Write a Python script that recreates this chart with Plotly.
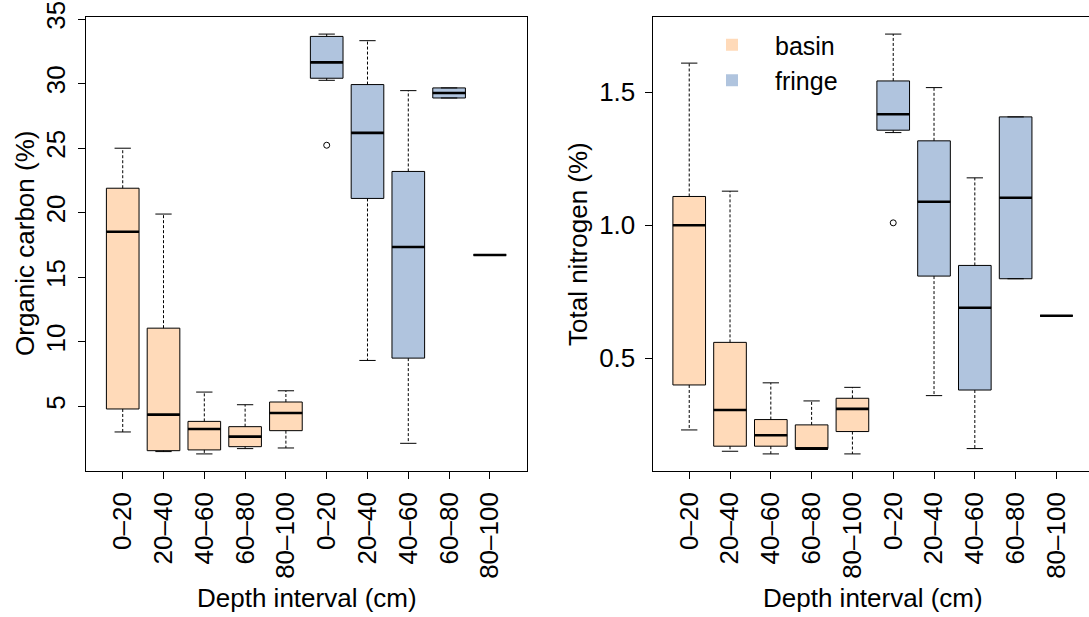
import plotly.graph_objects as go

# ---------------- data ----------------
depth_labels = ["0–20", "20–40", "40–60", "60–80", "80–100"]
groups = ["basin", "fringe"]

# Organic carbon (%)
oc_basin_lower = [3.02, 1.50, 1.32, 1.73, 1.78]
oc_basin_q1 = [4.80, 1.57, 1.63, 1.88, 3.12]
oc_basin_median = [18.53, 4.36, 3.25, 2.66, 4.49]
oc_basin_q3 = [21.90, 11.06, 3.84, 3.43, 5.34]
oc_basin_upper = [25.00, 19.90, 6.11, 5.13, 6.21]

oc_fringe_lower = [30.26, 8.56, 2.14, 28.89, 16.73]
oc_fringe_q1 = [30.42, 21.11, 8.74, 28.89, 16.73]
oc_fringe_median = [31.65, 26.19, 17.35, 29.28, 16.73]
oc_fringe_q3 = [33.66, 29.93, 23.20, 29.67, 16.73]
oc_fringe_upper = [33.84, 33.33, 29.46, 29.67, 16.73]
oc_fringe_outliers = {"0–20": [25.23]}

# Total nitrogen (%)
tn_basin_lower = [0.231, 0.151, 0.141, 0.161, 0.141]
tn_basin_q1 = [0.400, 0.170, 0.170, 0.161, 0.225]
tn_basin_median = [1.000, 0.306, 0.211, 0.161, 0.310]
tn_basin_q3 = [1.108, 0.560, 0.270, 0.250, 0.350]
tn_basin_upper = [1.609, 1.128, 0.408, 0.340, 0.391]

tn_fringe_lower = [1.348, 0.360, 0.161, 0.799, 0.660]
tn_fringe_q1 = [1.357, 0.809, 0.381, 0.799, 0.660]
tn_fringe_median = [1.417, 1.088, 0.690, 1.103, 0.660]
tn_fringe_q3 = [1.542, 1.317, 0.849, 1.407, 0.660]
tn_fringe_upper = [1.718, 1.517, 1.178, 1.407, 0.660]
tn_fringe_outliers = {"0–20": [1.009]}

oc_ticks = [5, 10, 15, 20, 25, 30, 35]
tn_ticks = [0.5, 1.0, 1.5]
tn_ticktext = ["0.5", "1.0", "1.5"]

# ---------------- style ----------------
FONT = "Liberation Sans, Arial, Helvetica, sans-serif"
FS = 26
COL = {"basin": "#FFDAB9", "fringe": "#B0C4DE"}
BOXW = 0.8
CAPW = 0.4

fig = go.Figure()


def add_panel(xa, ya, stats, outliers):
    all_vals = []
    for gi, g in enumerate(groups):
        lower, q1, med, q3, upper = stats[g]
        pos = [gi * len(depth_labels) + i + 1 for i in range(len(depth_labels))]
        all_vals += lower + upper + sum(outliers[g].values(), [])
        fig.add_trace(go.Box(
            x=pos, q1=q1, median=med, q3=q3, lowerfence=q1, upperfence=q3,
            width=BOXW, whiskerwidth=0, fillcolor=COL[g],
            line=dict(color="black", width=1), boxpoints=False,
            xaxis=xa, yaxis=ya, showlegend=False, hoverinfo="skip"))
        # dashed whiskers
        wx, wy = [], []
        for p, lo, a, b, hi in zip(pos, lower, q1, q3, upper):
            if hi > b:
                wx += [p, p, None]; wy += [b, hi, None]
            if lo < a:
                wx += [p, p, None]; wy += [a, lo, None]
        fig.add_trace(go.Scatter(x=wx, y=wy, mode="lines",
                                 line=dict(color="black", width=1, dash="3px,2px"),
                                 xaxis=xa, yaxis=ya, showlegend=False, hoverinfo="skip"))
        # staples
        cx, cy = [], []
        for p, lo, hi in zip(pos, lower, upper):
            cx += [p - CAPW / 2, p + CAPW / 2, None, p - CAPW / 2, p + CAPW / 2, None]
            cy += [hi, hi, None, lo, lo, None]
        fig.add_trace(go.Scatter(x=cx, y=cy, mode="lines",
                                 line=dict(color="black", width=1),
                                 xaxis=xa, yaxis=ya, showlegend=False, hoverinfo="skip"))
        # thick medians
        mx, my = [], []
        for p, m in zip(pos, med):
            mx += [p - BOXW / 2, p + BOXW / 2, None]
            my += [m, m, None]
        fig.add_trace(go.Scatter(x=mx, y=my, mode="lines",
                                 line=dict(color="black", width=2.6),
                                 xaxis=xa, yaxis=ya, showlegend=False, hoverinfo="skip"))
        # outliers
        ox, oy = [], []
        for lab, vals in outliers[g].items():
            p = pos[depth_labels.index(lab)]
            ox += [p] * len(vals); oy += vals
        if ox:
            fig.add_trace(go.Scatter(x=ox, y=oy, mode="markers",
                                     marker=dict(symbol="circle-open", size=6,
                                                 color="black", line=dict(width=1)),
                                     xaxis=xa, yaxis=ya, showlegend=False, hoverinfo="skip"))
    lo_v, hi_v = min(all_vals), max(all_vals)
    pad = 0.04 * (hi_v - lo_v)
    return [lo_v - pad, hi_v + pad]


oc_range = add_panel("x", "y",
                     {"basin": [oc_basin_lower, oc_basin_q1, oc_basin_median, oc_basin_q3, oc_basin_upper],
                      "fringe": [oc_fringe_lower, oc_fringe_q1, oc_fringe_median, oc_fringe_q3, oc_fringe_upper]},
                     {"basin": {}, "fringe": oc_fringe_outliers})
tn_range = add_panel("x2", "y2",
                     {"basin": [tn_basin_lower, tn_basin_q1, tn_basin_median, tn_basin_q3, tn_basin_upper],
                      "fringe": [tn_fringe_lower, tn_fringe_q1, tn_fringe_median, tn_fringe_q3, tn_fringe_upper]},
                     {"basin": {}, "fringe": tn_fringe_outliers})

# legend entries
for g in groups:
    fig.add_trace(go.Scatter(x=[None], y=[None], mode="markers", name=g,
                             marker=dict(symbol="square", size=12, color=COL[g]),
                             xaxis="x2", yaxis="y2"))

n = 2 * len(depth_labels)
tickpos = list(range(1, n + 1))
ticklab = depth_labels * 2

W, H = 1089, 617
YDOM = [1 - 470.7 / H, 1 - 17.3 / H]

common_x = dict(showline=True, linecolor="black", linewidth=1, mirror=True,
                ticks="outside", ticklen=7, tickcolor="black", tickwidth=1,
                tickvals=tickpos, ticktext=ticklab, tickangle=-90,
                showgrid=False, zeroline=False, automargin=False,
                ticklabelstandoff=3,
                tickfont=dict(family=FONT, size=FS, color="black"))
common_y = dict(showline=True, linecolor="black", linewidth=1,
                ticks="outside", ticklen=7, tickcolor="black", tickwidth=1,
                showgrid=False, zeroline=False, automargin=False,
                tickfont=dict(family=FONT, size=FS, color="black"))

fig.update_layout(
    width=W, height=H,
    margin=dict(l=0, r=0, t=0, b=0, autoexpand=False),
    paper_bgcolor="white", plot_bgcolor="white",
    font=dict(family=FONT, size=FS, color="black"),
    boxmode="overlay",
    xaxis=dict(domain=[86 / W, 526.6 / W], range=[0.1, 10.9], anchor="y", **common_x),
    yaxis=dict(domain=YDOM, range=oc_range, anchor="x", mirror=True,
               tickvals=oc_ticks, tickangle=-90, ticklabelstandoff=3, **common_y),
    xaxis2=dict(domain=[652.5 / W, 1.0], range=[0.1, 0.1 + (W - 652.5) / 40.8],
                anchor="y2", **common_x),
    yaxis2=dict(domain=YDOM, range=tn_range, anchor="x2", mirror=False,
                tickvals=tn_ticks, ticktext=tn_ticktext, ticklabelstandoff=4, **common_y),
    legend=dict(x=(732 - 43) / W, y=1 - 22 / H, xanchor="left", yanchor="top",
                bgcolor="rgba(0,0,0,0)", itemwidth=76,
                font=dict(family=FONT, size=25, color="black"), tracegroupgap=0),
    annotations=[
        dict(text="Organic carbon (%)", x=25 / W, y=1 - 244 / H, xref="paper", yref="paper",
             textangle=-90, showarrow=False, xanchor="center", yanchor="middle",
             font=dict(family=FONT, size=FS)),
        dict(text="Total nitrogen (%)", x=578 / W, y=1 - 244 / H, xref="paper", yref="paper",
             textangle=-90, showarrow=False, xanchor="center", yanchor="middle",
             font=dict(family=FONT, size=FS)),
        dict(text="Depth interval (cm)", x=306.5 / W, y=1 - 598 / H, xref="paper", yref="paper",
             showarrow=False, xanchor="center", yanchor="middle",
             font=dict(family=FONT, size=FS)),
        dict(text="Depth interval (cm)", x=873 / W, y=1 - 598 / H, xref="paper", yref="paper",
             showarrow=False, xanchor="center", yanchor="middle",
             font=dict(family=FONT, size=FS)),
    ],
)

fig.write_html("out.html")
